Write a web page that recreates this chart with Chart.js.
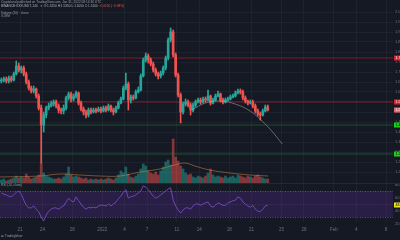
<!DOCTYPE html>
<html><head><meta charset="utf-8">
<script src="https://cdn.jsdelivr.net/npm/chart.js@4.4.1/dist/chart.umd.min.js"></script>
<style>
html,body{margin:0;padding:0;background:#151924;overflow:hidden;width:400px;height:240px;}
#wrap{position:relative;width:400px;height:240px;overflow:hidden;background:#151924;}
#c1{position:absolute;left:0;top:0;}
#c2{position:absolute;left:0;top:183px;}
.t{position:absolute;font-family:"Liberation Sans",Arial,sans-serif;white-space:nowrap;line-height:1;color:#9a9da6;}
</style></head><body>
<div id="wrap">
<canvas id="c1" width="400" height="183"></canvas>
<canvas id="c2" width="400" height="57"></canvas>
<div class="t" style="left:1px;top:1px;font-size:3.2px;">Cryptoland published on TradingView.com, Jan 31, 2022 08:14:36 UTC</div>
<div class="t" style="left:1px;top:4.6px;font-size:3.2px;color:#b2b5be">BINANCE:XXXUSDT, 240 &nbsp;<span style="color:#ef5350">▼</span> O:1.5250 H:1.5350 L:1.5050 C:1.5100 <span style="color:#ef5350">−0.0150 (−0.98%)</span></div>
<div class="t" style="left:1px;top:11.5px;font-size:3.2px;">Volume (20) · close</div>
<div class="t" style="left:1px;top:15px;font-size:3.2px;">3.09M</div>
<div class="t" style="left:1px;top:184px;font-size:3.2px;">RSI (14, close)</div>
<div class="t" style="left:1px;top:235px;font-size:3.2px;">⊞ TradingView</div>
</div>
<script>
// ---- data ----
const tickDays = [0,3,7,11,14,17,21,24,28,31,35,38,42,45,49];   // days since Dec 21, 2021
const tickLabels = ['21','24','28','2022','4','7','11','14','18','21','25','28','Feb','4','8'];
const firstCandleDay = -2.5;   // Dec 18, 12:00
const candleHours = 8;

const openP = [1.655,1.660,1.665,1.655,1.670,1.660,1.690,1.730,1.710,1.720,
1.690,1.650,1.620,1.605,1.615,1.580,1.520,1.435,1.485,1.520,
1.530,1.540,1.550,1.530,1.510,1.505,1.520,1.570,1.590,1.565,
1.580,1.595,1.545,1.515,1.500,1.485,1.510,1.500,1.510,1.505,
1.515,1.505,1.520,1.510,1.530,1.510,1.500,1.520,1.545,1.565,
1.620,1.640,1.560,1.575,1.570,1.600,1.610,1.680,1.760,1.780,
1.760,1.740,1.710,1.690,1.680,1.695,1.720,1.770,1.860,1.900,
1.785,1.685,1.585,1.500,1.540,1.550,1.535,1.510,1.535,1.550,
1.560,1.550,1.565,1.560,1.580,1.545,1.560,1.580,1.590,1.560,
1.550,1.560,1.565,1.575,1.580,1.595,1.605,1.600,1.570,1.555,
1.545,1.550,1.530,1.505,1.490,1.485,1.505,1.525];
const highP = [1.670,1.675,1.675,1.680,1.680,1.700,1.755,1.745,1.730,1.730,
1.700,1.660,1.630,1.630,1.620,1.590,1.535,1.500,1.530,1.545,
1.555,1.560,1.560,1.540,1.520,1.535,1.580,1.600,1.600,1.590,
1.605,1.600,1.555,1.525,1.510,1.520,1.520,1.520,1.520,1.525,
1.525,1.530,1.530,1.540,1.535,1.520,1.530,1.555,1.575,1.630,
1.695,1.650,1.585,1.585,1.610,1.625,1.690,1.770,1.795,1.790,
1.770,1.750,1.720,1.700,1.705,1.730,1.780,1.870,1.920,1.910,
1.795,1.695,1.595,1.550,1.565,1.560,1.545,1.545,1.560,1.570,
1.570,1.575,1.575,1.610,1.585,1.570,1.590,1.605,1.595,1.570,
1.570,1.575,1.585,1.590,1.605,1.615,1.615,1.610,1.580,1.560,
1.560,1.560,1.540,1.515,1.500,1.515,1.535,1.535];
const lowP = [1.645,1.650,1.645,1.645,1.650,1.655,1.685,1.700,1.695,1.680,
1.640,1.610,1.595,1.595,1.570,1.510,1.245,1.400,1.470,1.510,
1.525,1.530,1.520,1.495,1.490,1.490,1.510,1.560,1.550,1.555,
1.570,1.535,1.505,1.485,1.470,1.475,1.490,1.495,1.495,1.500,
1.495,1.500,1.500,1.505,1.500,1.485,1.495,1.515,1.540,1.560,
1.610,1.510,1.545,1.560,1.565,1.595,1.605,1.675,1.750,1.745,
1.730,1.700,1.680,1.665,1.670,1.685,1.710,1.760,1.850,1.775,
1.675,1.575,1.445,1.490,1.530,1.525,1.485,1.500,1.525,1.545,
1.540,1.545,1.550,1.555,1.535,1.540,1.555,1.575,1.550,1.540,
1.545,1.555,1.560,1.570,1.575,1.590,1.590,1.560,1.545,1.535,
1.540,1.520,1.495,1.480,1.460,1.480,1.500,1.505];
const closeP = [1.660,1.665,1.655,1.670,1.660,1.690,1.730,1.710,1.720,1.690,
1.650,1.620,1.605,1.615,1.580,1.520,1.435,1.485,1.520,1.530,
1.540,1.550,1.530,1.510,1.505,1.520,1.570,1.590,1.565,1.580,
1.595,1.545,1.515,1.500,1.485,1.510,1.500,1.510,1.505,1.515,
1.505,1.520,1.510,1.530,1.510,1.500,1.520,1.545,1.565,1.620,
1.640,1.560,1.575,1.570,1.600,1.610,1.680,1.760,1.780,1.760,
1.740,1.710,1.690,1.680,1.695,1.720,1.770,1.860,1.900,1.785,
1.685,1.585,1.500,1.540,1.550,1.535,1.510,1.535,1.550,1.560,
1.550,1.565,1.560,1.580,1.545,1.560,1.580,1.590,1.560,1.550,
1.560,1.565,1.575,1.580,1.595,1.605,1.600,1.570,1.555,1.545,
1.550,1.530,1.505,1.490,1.485,1.505,1.525,1.510];
const volumeM = [1.5,2,1,1.5,2,2.5,3.5,2.5,3,2.5,
4.5,3,2,2.5,3,4,10,5,3.5,3,
2.5,2,2,2.5,2,3,4.5,8,4,3,
3.5,3,2.5,2,2.5,1.5,2,1.5,2,1.5,
2,1.5,2,2.5,2,1.5,2.5,4,6,5,
8,4.5,3,2.5,3.5,4.5,7,9.5,8.5,6,
5,4.5,5.5,4,6,8,10.5,11.5,9,22,
13,11,8.5,7,5,4,4.5,3,2.5,3.5,
3,2.5,3.5,5,7,4,3,3.5,3,2.5,
3.5,2.5,3,3.5,2.5,4,3.5,3,2.5,3.5,
3,2.5,3.5,4,3,2.5,2,2];
const rsi14 = [67,65,64,62,61,64,68,70,65,56,
48,44,44,47,42,38,30,24,33,39,
42,44,44,42,45,47,53,59,55,53,
61,55,50,45,42,45,44,45,44,47,
48,48,47,50,47,50,53,58,62,68,
72,59,61,62,64,67,70,78,76,72,
67,62,59,61,64,67,70,73,75,56,
47,41,36,41,44,44,42,47,50,50,
48,50,52,53,47,45,48,52,50,48,
48,52,53,55,56,61,59,53,50,47,
45,48,42,39,38,42,47,48];
const volMaDays = [-2.68,2.68,5.35,8.03,10.7,13.4,16.1,18.7,20.7,22.1,23.4,25.4,28.1,30.8,33.2];
const volMa = [3,3.5,4.5,4,3.5,3.5,5.5,7,9,10,8.5,6.5,5,4,3.5];
const resistance = [1.770, 1.550];
const support = [1.435, 1.290];
const arcDays = [23.0,24.8,26.8,28.8,30.8,32.4,33.7,35.1];
const arcPrices = [1.510,1.545,1.555,1.540,1.505,1.455,1.405,1.340];
const priceTicks = [1.20,1.25,1.30,1.35,1.40,1.45,1.50,1.55,1.60,1.65,1.70,1.75,1.80,1.85,1.90,1.95,2.00];
const rsiTicks = [20,40,60,80];

// ---- setup ----
const xMin = -2.68, xMax = 49.93;
const UP = '#26a69a', DN = '#ef5350';
const GRID = 'rgba(42,46,57,0.45)';
const candleX = openP.map((_, i) => firstCandleDay + i * candleHours / 24);
const isUp = closeP.map((c, i) => c >= openP[i]);

function fixX(s, h){ s.height = h; s.paddingLeft = 0; s.paddingRight = 0; s.paddingTop = 0; s.paddingBottom = 0; }
function fixY(s){ s.width = 7; s.paddingTop = 0; s.paddingBottom = 0; s.paddingLeft = 0; s.paddingRight = 0; }

function tag(ctx, x, y, bg, fg, text){
  ctx.save();
  ctx.fillStyle = bg; ctx.fillRect(x, Math.round(y) - 2.5, 14, 5);
  ctx.fillStyle = fg; ctx.font = '3.6px "Liberation Sans"';
  ctx.textBaseline = 'middle'; ctx.fillText(text, x + 1.5, y + 0.2);
  ctx.restore();
}

const levelDs = (lvl, col) => ({
  type:'line', data:[{x:xMin,y:lvl},{x:xMax,y:lvl}], yAxisID:'y',
  borderColor:col, borderWidth:1, pointRadius:0, order:3
});

const priceTags = {
  id:'priceTags',
  afterDraw(chart){
    const ctx = chart.ctx, y = chart.scales.y, x0 = chart.chartArea.right + 1;
    resistance.forEach(v => tag(ctx, x0, y.getPixelForValue(v), '#e0202c', '#fff', v.toFixed(4)));
    support.forEach(v => tag(ctx, x0, y.getPixelForValue(v), '#19d219', '#000', v.toFixed(4)));
    const last = closeP[closeP.length - 1];
    tag(ctx, x0, y.getPixelForValue(last), '#e06a6a', '#fff', last.toFixed(4));
  }
};

new Chart(document.getElementById('c1'), {
  data:{ datasets:[
    levelDs(resistance[0], 'rgba(200,35,50,0.55)'),
    levelDs(resistance[1], 'rgba(200,35,50,0.55)'),
    levelDs(support[0], 'rgba(40,140,55,0.5)'),
    levelDs(support[1], 'rgba(40,140,55,0.5)'),
    { type:'line', data: arcDays.map((d,i)=>({x:d,y:arcPrices[i]})), yAxisID:'y',
      borderColor:'rgba(178,181,190,0.5)', borderWidth:1, pointRadius:0, tension:0.4, order:0 },
    { type:'bar', data: candleX.map((d,i)=>({x:d,y:[lowP[i],highP[i]]})), yAxisID:'y',
      backgroundColor: isUp.map(u=>u?UP:DN), barThickness:1, grouped:false, order:2 },
    { type:'bar', data: candleX.map((d,i)=>({x:d,y:[openP[i],closeP[i]]})), yAxisID:'y',
      backgroundColor: isUp.map(u=>u?UP:DN), barThickness:2, minBarLength:1, grouped:false, order:1 },
    { type:'bar', data: candleX.map((d,i)=>({x:d,y:volumeM[i]})), yAxisID:'vol',
      backgroundColor: isUp.map(u=>u?'rgba(38,166,154,0.5)':'rgba(239,83,80,0.5)'), barThickness:2, grouped:false, order:6 },
    { type:'line', data: volMaDays.map((d,i)=>({x:d,y:volMa[i]})), yAxisID:'vol',
      borderColor:'rgba(200,130,70,0.55)', borderWidth:1, pointRadius:0, tension:0.4, order:5 }
  ]},
  options:{
    responsive:false, animation:false, events:[],
    layout:{padding:0},
    plugins:{legend:{display:false}, tooltip:{enabled:false}},
    scales:{
      x:{ type:'linear', min:xMin, max:xMax, offset:false,
          ticks:{display:false}, grid:{color:GRID, drawTicks:false, offset:false}, border:{display:false},
          afterBuildTicks:s=>{ s.ticks = tickDays.map(v=>({value:v})); },
          afterFit:s=>fixX(s,0) },
      y:{ type:'linear', position:'right', min:1.145, max:2.06,
          ticks:{ font:{size:4, family:'Liberation Sans'}, color:'#6f727c', padding:2, callback:v=>v.toFixed(4) },
          grid:{color:GRID, drawTicks:false}, border:{display:false},
          afterBuildTicks:s=>{ s.ticks = priceTicks.map(v=>({value:v})); },
          afterFit:fixY },
      vol:{ type:'linear', display:false, min:0, max:91.5 }
    }
  },
  plugins:[priceTags]
});

const rsiBand = {
  id:'rsiBand',
  beforeDatasetsDraw(chart){
    const ctx = chart.ctx, r = chart.scales.yr, a = chart.chartArea;
    const y70 = r.getPixelForValue(70), y30 = r.getPixelForValue(30), y50 = r.getPixelForValue(50);
    ctx.save();
    ctx.fillStyle = 'rgba(110,50,190,0.22)';
    ctx.fillRect(a.left, y70, a.right - a.left, y30 - y70);
    ctx.setLineDash([1,1.5]); ctx.lineWidth = 1;
    ctx.strokeStyle = 'rgba(120,123,134,0.6)';
    [y70, y30].forEach(y=>{ ctx.beginPath(); ctx.moveTo(a.left, Math.round(y)+0.5); ctx.lineTo(a.right, Math.round(y)+0.5); ctx.stroke(); });
    ctx.strokeStyle = 'rgba(120,123,134,0.3)';
    ctx.beginPath(); ctx.moveTo(a.left, Math.round(y50)+0.5); ctx.lineTo(a.right, Math.round(y50)+0.5); ctx.stroke();
    ctx.restore();
    ctx.save(); ctx.strokeStyle = '#242833'; ctx.lineWidth = 1;
    ctx.beginPath(); ctx.moveTo(0, 0.5); ctx.lineTo(chart.width, 0.5); ctx.stroke();
    ctx.restore();
  },
  afterDraw(chart){
    const last = rsi14[rsi14.length - 1];
    tag(chart.ctx, chart.chartArea.right + 1, chart.scales.yr.getPixelForValue(last), '#e8e619', '#000', last.toFixed(2));
  }
};

new Chart(document.getElementById('c2'), {
  type:'line',
  data:{ datasets:[
    { data: candleX.map((d,i)=>({x:d,y:rsi14[i]})), xAxisID:'x', yAxisID:'yr',
      borderColor:'#7444b8', borderWidth:1, pointRadius:0, tension:0 }
  ]},
  options:{
    responsive:false, animation:false, events:[],
    layout:{padding:0},
    plugins:{legend:{display:false}, tooltip:{enabled:false}},
    scales:{
      x:{ type:'linear', min:xMin, max:xMax, offset:false,
          ticks:{ font:{size:4.5, family:'Liberation Sans'}, color:'#6f727c', padding:5, maxRotation:0, autoSkip:false,
                  callback:(v,i)=>tickLabels[i] },
          grid:{color:GRID, drawTicks:false}, border:{display:false},
          afterBuildTicks:s=>{ s.ticks = tickDays.map(v=>({value:v})); },
          afterFit:s=>fixX(s,18) },
      yr:{ type:'linear', axis:'y', position:'right', min:22.3, max:82.3,
          ticks:{ font:{size:4, family:'Liberation Sans'}, color:'#6f727c', padding:2, callback:v=>v.toFixed(2) },
          grid:{display:false, drawTicks:false}, border:{display:false},
          afterBuildTicks:s=>{ s.ticks = rsiTicks.map(v=>({value:v})); },
          afterFit:fixY }
    }
  },
  plugins:[rsiBand]
});
</script>
</body></html>
